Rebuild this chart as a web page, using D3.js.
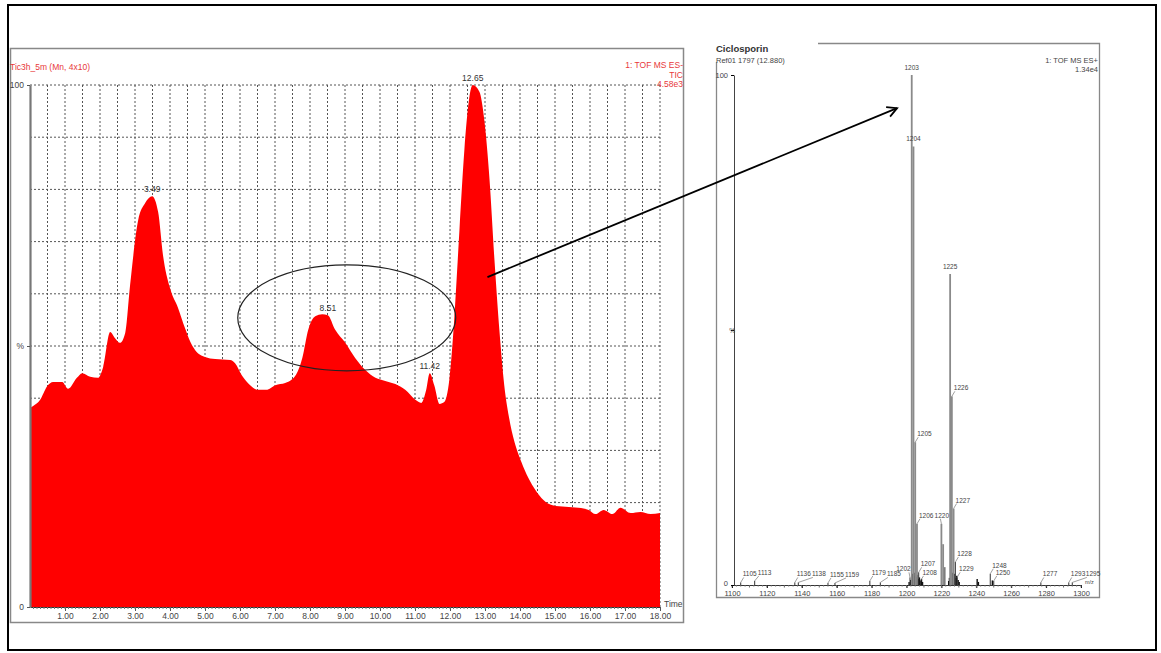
<!DOCTYPE html>
<html><head><meta charset="utf-8">
<script src="https://cdn.jsdelivr.net/npm/d3@7"></script>
<style>
body{margin:0;background:#fff;}
svg{display:block;font-family:Arial,"Liberation Sans",sans-serif;}
</style></head><body>
<svg id="c" width="1161" height="653"></svg>
<script>
// Total ion chromatogram: retention time (min) and relative intensity (%)
const retentionTime = [0.00,0.09,0.29,0.49,0.66,0.92,1.09,1.34,1.49,1.72,1.94,2.09,2.29,2.43,2.57,2.72,2.86,3.09,3.29,3.49,3.66,3.80,4.00,4.23,4.43,4.58,4.72,5.00,5.29,5.72,5.86,6.06,6.29,6.52,6.75,7.01,7.29,7.58,7.78,7.95,8.15,8.35,8.51,8.72,9.01,9.29,9.58,9.87,10.15,10.44,10.72,11.01,11.18,11.32,11.42,11.55,11.70,11.84,11.98,12.12,12.27,12.41,12.55,12.65,12.84,12.98,13.13,13.27,13.41,13.55,13.70,13.87,14.04,14.24,14.44,14.67,14.93,15.30,15.67,15.96,16.16,16.39,16.64,16.87,17.16,17.44,17.73,18.00];
const ticIntensity = [38.1,38.5,39.7,42.3,43.1,43.1,41.8,43.9,44.8,44.1,43.9,46.0,52.7,51.5,50.6,52.5,61.7,74.1,77.4,78.7,75.7,67.4,61.1,57.3,53.4,50.8,49.2,47.9,47.5,47.3,46.7,44.3,42.5,41.6,41.6,42.5,42.9,44.3,47.7,53.1,55.7,56.1,55.9,53.1,50.6,47.7,45.4,43.9,43.3,42.7,41.6,39.7,39.1,41.6,44.8,42.5,38.9,39.3,43.5,55.0,72.2,87.5,97.5,100,98.7,93.3,81.8,66.5,53.1,42.5,35.8,31.0,27.8,24.7,22.4,20.5,19.5,19.2,19.0,18.6,17.8,18.6,17.8,19.0,18.0,18.2,17.8,18.0];
const ticPeakTimes = [3.49, 8.51, 11.42, 12.65];
const timeTicks = [1,2,3,4,5,6,7,8,9,10,11,12,13,14,15,16,17,18];

// Mass spectrum of the 12.880 min scan: m/z, relative intensity (%), peak label
const specMz = [1105,1113,1136,1138,1155,1159,1179,1185,1202,1203,1204,1205,1206,1207,1208,1220,1221,1222,1225,1226,1227,1228,1229,1248,1250,1277,1293,1295];
const specIntensity = [0.5,0.8,0.5,0.5,0.4,0.4,0.8,0.5,1.5,100,86,28,12,2.5,0.8,12,8,3.5,61,37,15,4.5,1.5,2.2,0.8,0.5,0.5,0.5];
const specLabel = ["1105","1113","1136","1138","1155","1159","1179","1185","1202","1203","1204","1205","1206","1207","1208","1220","","","1225","1226","1227","1228","1229","1248","1250","1277","1293","1295"];
// baseline noise clusters
const noiseMz = [1201.5,1202.4,1203.6,1204.4,1204.8,1205.5,1206.3,1206.8,1207.4,1208.1,1208.6,1209.2,1224.2,1224.6,1225.6,1226.4,1226.8,1227.5,1228.3,1228.8,1229.6,1230.2,1240.5,1241.2,1249.2];
const noiseIntensity = [0.6,1.0,2.2,1.8,2.4,1.6,2.0,1.2,1.5,0.9,1.2,0.6,0.8,1.4,2.0,2.4,1.6,2.2,1.4,1.8,1.0,0.6,1.2,0.6,0.9];
const mzTicks = [1100,1120,1140,1160,1180,1200,1220,1240,1260,1280,1300];

const svg = d3.select("#c");
const txt = "#444";

// outer frame
svg.append("rect").attr("x",8).attr("y",5).attr("width",1148).attr("height",645)
  .attr("fill","none").attr("stroke","#000").attr("stroke-width",2);

// ---------- chromatogram panel ----------
svg.append("rect").attr("x",10.5).attr("y",48.5).attr("width",673).attr("height",574)
  .attr("fill","none").attr("stroke","#888").attr("stroke-width",1.5);

const xT = d3.scaleLinear().domain([0,18]).range([30,660]);
const yT = d3.scaleLinear().domain([0,100]).range([607,85]);

const grid = svg.append("g").attr("stroke","#555").attr("stroke-width",1).attr("stroke-dasharray","2,2");
d3.range(1,37).map(i=>i*0.5).forEach(t=>{
  grid.append("line").attr("x1",xT(t)).attr("x2",xT(t)).attr("y1",yT(100)).attr("y2",yT(0));
});
d3.range(1,11).map(i=>i*10).forEach(v=>{
  grid.append("line").attr("x1",xT(0)).attr("x2",xT(18)).attr("y1",yT(v)).attr("y2",yT(v));
});

const ticData = retentionTime.map((t,i)=>({t, v:ticIntensity[i]}));
svg.append("path").datum(ticData)
  .attr("fill","#ff0000")
  .attr("d", d3.area().x(d=>xT(d.t)).y0(yT(0)).y1(d=>yT(d.v)).curve(d3.curveMonotoneX));

// x axis
const xAx = svg.append("g").attr("transform",`translate(0,${yT(0)})`)
  .call(d3.axisBottom(xT).tickValues(timeTicks).tickFormat(d3.format(".2f")).tickSize(4).tickSizeOuter(0));
xAx.select(".domain").attr("stroke","#333");
xAx.selectAll(".tick line").attr("stroke","#555");
xAx.selectAll("text").attr("fill",txt).attr("font-size",8.5).attr("dy","0.55em");
const minorT = svg.append("g").attr("stroke","#777");
d3.range(1,180).map(i=>i/10).forEach(t=>{
  minorT.append("line").attr("x1",xT(t)).attr("x2",xT(t)).attr("y1",yT(0)).attr("y2",yT(0)+2);
});
svg.append("text").attr("x",xT(18)+4).attr("y",yT(0)).attr("font-size",8.5).attr("fill",txt).text("Time");

// y axis
const yAx = svg.append("g").attr("transform",`translate(${xT(0)},0)`)
  .call(d3.axisLeft(yT).tickValues([0,50,100]).tickFormat(d=>d===50?"%":d).tickSize(3).tickSizeOuter(0));
yAx.select(".domain").attr("stroke","#777").attr("stroke-width",2.2);
yAx.selectAll(".tick line").attr("stroke","#555");
yAx.selectAll("text").attr("fill",txt).attr("font-size",8.5);

// headers
svg.append("text").attr("x",10).attr("y",70).attr("font-size",8.5).attr("fill","#e8383a").text("Tic3h_5m (Mn, 4x10)");
[["1: TOF MS ES-",68],["TIC",78],["4.58e3",87]].forEach(([s,y])=>{
  svg.append("text").attr("x",683).attr("y",y).attr("text-anchor","end").attr("font-size",8.5).attr("fill","#e8383a").text(s);
});

// peak apex labels
ticPeakTimes.forEach(t=>{
  const v = ticIntensity[retentionTime.indexOf(t)];
  svg.append("text").attr("x",xT(t)).attr("y",yT(v)-4).attr("text-anchor","middle")
    .attr("font-size",8.5).attr("fill","#333").text(t.toFixed(2));
});

// ---------- mass spectrum panel ----------
svg.append("path").attr("d","M818,43.5 H1099.5 V597.5 H716.5 V62")
  .attr("fill","none").attr("stroke","#888").attr("stroke-width",1.3);

const xM = d3.scaleLinear().domain([1100,1300]).range([732,1081]);
const yM = d3.scaleLinear().domain([0,100]).range([585,75]);

svg.append("text").attr("x",716).attr("y",52).attr("font-size",9.5).attr("font-weight","bold").attr("fill","#333").text("Ciclosporin");
svg.append("text").attr("x",716).attr("y",63).attr("font-size",7.5).attr("fill",txt).text("Ref01 1797 (12.880)");
svg.append("text").attr("x",1098).attr("y",63).attr("text-anchor","end").attr("font-size",7.5).attr("fill",txt).text("1: TOF MS ES+");
svg.append("text").attr("x",1098).attr("y",72).attr("text-anchor","end").attr("font-size",7.5).attr("fill",txt).text("1.34e4");

// axes
const mAx = svg.append("g").attr("transform",`translate(0,${yM(0)})`)
  .call(d3.axisBottom(xM).tickValues(mzTicks).tickFormat(d3.format("d")).tickSize(3).tickSizeOuter(0));
mAx.select(".domain").attr("stroke","#333");
mAx.selectAll("text").attr("fill",txt).attr("font-size",7.5).attr("dy","0.71em");
const minorM = svg.append("g").attr("stroke","#666");
d3.range(1100,1301,2.5).forEach(m=>{
  minorM.append("line").attr("x1",xM(m)).attr("x2",xM(m)).attr("y1",yM(0)).attr("y2",yM(0)+(m%10===0?2.5:1.5));
});
svg.append("text").attr("x",1085).attr("y",yM(0)-1).attr("font-size",5.5).attr("fill",txt).text("m/z");

const lAx = svg.append("g").attr("transform",`translate(${xM(1100)+2},0)`)
  .call(d3.axisLeft(yM).tickValues([0,50,100]).tickFormat(d=>d===50?"%":d).tickSize(3).tickSizeOuter(0));
lAx.select(".domain").attr("stroke","#444").attr("stroke-width",1);
lAx.selectAll("text").attr("fill",txt).attr("font-size",7.5);
lAx.selectAll(".tick").filter(d=>d===50).select("text").attr("x",1).attr("font-size",6.5);
lAx.selectAll(".tick").filter(d=>d===0).select("text").attr("dy","0.05em");

// noise
svg.append("g").selectAll("line").data(noiseMz).join("line")
  .attr("x1",d=>xM(d)).attr("x2",d=>xM(d))
  .attr("y1",yM(0)).attr("y2",(d,i)=>yM(noiseIntensity[i]))
  .attr("stroke","#111").attr("stroke-width",1.4);

// sticks
const spec = specMz.map((m,i)=>({m, v:specIntensity[i], s:specLabel[i]}));
svg.append("g").selectAll("line").data(spec).join("line")
  .attr("x1",d=>xM(d.m)).attr("x2",d=>xM(d.m))
  .attr("y1",yM(0)).attr("y2",d=>yM(d.v))
  .attr("stroke",d=>d.v>5?"#8a8a8a":"#333").attr("stroke-width",d=>d.v>5?1.8:1);

// stick labels with short leaders; shifted to avoid taller sticks and neighbouring labels
const fs = 6.5, lw = 4*fs*0.56;
const lab = svg.append("g").attr("font-size",fs).attr("fill",txt);
const placed = [];
spec.filter(d=>d.s).forEach(d=>{
  const x = xM(d.m), top = yM(d.v);
  if (d.v >= 60) {
    lab.append("text").attr("x",x).attr("y",top-5).attr("text-anchor","middle").text(d.s);
    return;
  }
  const ly = Math.min(top-6, yM(0)-5);
  let lx = x+2;
  // a taller stick crossing the label box pushes the label to its left
  const blocker = spec.find(o=>o!==d && xM(o.m)>x && xM(o.m)<lx+lw && yM(o.v)<ly);
  if (blocker) lx = xM(blocker.m)-1-lw;
  // keep clear of the previous label on the same level
  const prev = placed.filter(p=>Math.abs(p.y-ly)<6 && p.x2>lx && p.x1<lx+lw);
  if (!blocker && prev.length) lx = d3.max(prev,p=>p.x2)+0.5;
  lab.append("line").attr("x1",x).attr("y1",Math.min(top,yM(0)-1))
    .attr("x2",blocker ? x-1 : lx+1).attr("y2",ly+1)
    .attr("stroke","#777").attr("stroke-width",0.7);
  lab.append("text").attr("x",lx).attr("y",ly).text(d.s);
  placed.push({x1:lx, x2:lx+lw, y:ly});
});

// ---------- annotation: ellipse + arrow ----------
svg.append("ellipse").attr("cx",xT(9.05)).attr("cy",yT(55.4)).attr("rx",109).attr("ry",53)
  .attr("fill","none").attr("stroke","#222").attr("stroke-width",1.2);

const x0 = xT(13.07), y0 = yT(63.2), x1 = xM(1194.6), y1 = yM(93.5);
svg.append("line").attr("x1",x0).attr("y1",y0).attr("x2",x1).attr("y2",y1)
  .attr("stroke","#000").attr("stroke-width",1.8);
const ang = Math.atan2(y1-y0, x1-x0);
const head = [ang+2.65, ang-2.65].map(a=>[x1+11*Math.cos(a), y1+11*Math.sin(a)]);
svg.append("path").attr("d",`M${head[0]}L${x1},${y1}L${head[1]}`)
  .attr("fill","none").attr("stroke","#000").attr("stroke-width",1.8);
</script>
</body></html>
